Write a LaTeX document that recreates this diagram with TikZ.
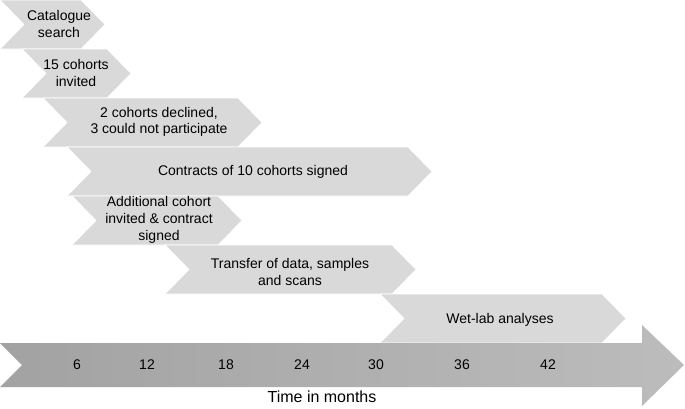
\documentclass[tikz,border=0pt]{standalone}
\usepackage{fontspec}
\setmainfont{Liberation Sans}
\definecolor{phasegray}{HTML}{D9D9D9}
\definecolor{axisdark}{HTML}{A2A2A2}
\definecolor{axislight}{HTML}{BCBCBC}
\tikzset{
    phase/.style={fill=phasegray, draw=white, line width=0.5pt},
    lbl/.style={align=center, inner sep=0pt, font=\fontsize{10.5}{12.5}\selectfont},
    tick/.style={inner sep=0pt, font=\fontsize{10.5}{12.5}\selectfont}
}
\begin{document}
\begin{tikzpicture}[x=0.75pt, y=-0.75pt]
    \useasboundingbox (0,0) rectangle (685,408);
    % phases
    \fill[phase] (0,0) -- (81,0) -- (105,24.5) -- (81,49) -- (0,49) -- (24,24.5) -- cycle;
    \fill[phase] (22,49) -- (107,49) -- (131,73.5) -- (107,98) -- (22,98) -- (46,73.5) -- cycle;
    \fill[phase] (43,98) -- (238,98) -- (262,122.5) -- (238,147) -- (43,147) -- (67,122.5) -- cycle;
    \fill[phase] (67,147) -- (408,147) -- (432,171.5) -- (408,196) -- (67,196) -- (91,171.5) -- cycle;
    \fill[phase] (72,196) -- (218,196) -- (242,220.5) -- (218,245) -- (72,245) -- (96,220.5) -- cycle;
    \fill[phase] (165,245) -- (392,245) -- (416,269.5) -- (392,294) -- (165,294) -- (189,269.5) -- cycle;
    \fill[phase] (380,294) -- (602,294) -- (626,318.5) -- (602,343) -- (380,343) -- (404,318.5) -- cycle;
    \node[lbl] (catalogue) at (59,24) {Catalogue\\search};
    \node[lbl] (invited) at (76,73) {15 cohorts\\invited};
    \node[lbl] (declined) at (159,122) {2 cohorts declined,\\3 could not participate};
    \node[lbl] (contracts) at (253,172) {Contracts of 10 cohorts signed};
    \node[lbl] (additional) at (159,220) {Additional cohort\\invited \& contract\\signed};
    \node[lbl] (transfer) at (290,272) {Transfer of data, samples\\and scans};
    \node[lbl] (wetlab) at (500,320) {Wet-lab analyses};
    % time axis
    \shade[left color=axisdark, right color=axislight]
        (0,343) -- (642,343) -- (642,325) -- (684,365) -- (642,406) -- (642,387) -- (0,387) -- (22,365) -- cycle;
    \node[tick] (m6) at (77,365) {6};
    \node[tick] (m12) at (147,365) {12};
    \node[tick] (m18) at (226,365) {18};
    \node[tick] (m24) at (302,365) {24};
    \node[tick] (m30) at (376,365) {30};
    \node[tick] (m36) at (462,365) {36};
    \node[tick] (m42) at (548,365) {42};
    \node[inner sep=0pt, font=\fontsize{12}{14}\selectfont] (months) at (322,397) {Time in months};
\end{tikzpicture}
\end{document}
